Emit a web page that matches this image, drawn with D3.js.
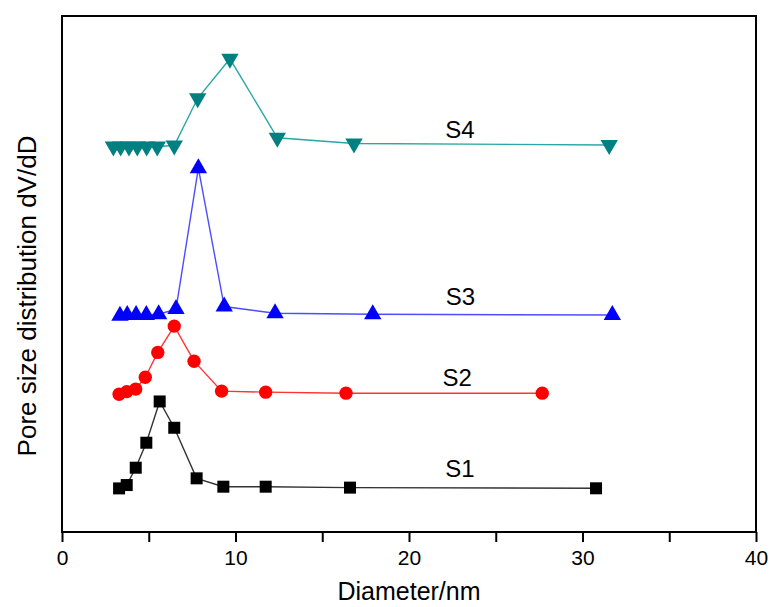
<!DOCTYPE html>
<html>
<head>
<meta charset="utf-8">
<script src="https://cdn.jsdelivr.net/npm/d3@7"></script>
<style>
  body { margin: 0; background: #fff; }
  text { font-family: "Liberation Sans", Arial, sans-serif; }
</style>
</head>
<body>
<div id="chart"></div>
<script>
const svgWidth = 771;
const svgHeight = 607;

const margin = { top: 16, right: 15, bottom: 75, left: 62 };
const width = svgWidth - margin.left - margin.right;
const height = svgHeight - margin.top - margin.bottom;

// pore diameter (nm) and dV/dD (arbitrary, offset per sample)
const s1X = [3.29, 3.73, 4.25, 4.86, 5.63, 6.47, 7.76, 9.30, 11.74, 16.6, 30.78];
const s1Y = [8.45, 9.1, 12.46, 17.3, 25.3, 20.2, 10.4, 8.78, 8.78, 8.6, 8.47];

const s2X = [3.29, 3.73, 4.25, 4.80, 5.52, 6.47, 7.61, 9.20, 11.74, 16.37, 27.68];
const s2Y = [26.7, 27.2, 27.7, 30.0, 34.8, 39.9, 33.1, 27.3, 27.1, 26.9, 26.9];

const s3X = [3.34, 3.76, 4.27, 4.86, 5.57, 6.57, 7.86, 9.35, 12.28, 17.91, 31.72];
const s3Y = [41.9, 42.05, 42.05, 42.05, 42.2, 43.2, 70.5, 43.7, 42.4, 42.2, 42.05];

const s4X = [2.96, 3.38, 3.86, 4.34, 4.88, 5.49, 6.47, 7.82, 9.68, 12.41, 16.83, 31.54];
const s4Y = [74.7, 74.7, 74.7, 74.7, 74.7, 74.7, 74.9, 84.05, 91.7, 76.4, 75.3, 75.0];

const labelNames = ["S1", "S2", "S3", "S4"];
const labelX = [22.94, 22.78, 22.96, 22.94];
const labelY = [10.72, 28.35, 44.0, 76.4];

const xTicks = [0, 5, 10, 15, 20, 25, 30, 35, 40];

const series = [
    { xs: s1X, ys: s1Y, line: "#333333", fill: "#000000", symbol: d3.symbolSquare, size: 144, rot: 0 },
    { xs: s2X, ys: s2Y, line: "#ff3333", fill: "#ff0000", symbol: d3.symbolCircle, size: 140, rot: 0 },
    { xs: s3X, ys: s3Y, line: "#4d4dff", fill: "#0000ff", symbol: d3.symbolTriangle, size: 130, rot: 0 },
    { xs: s4X, ys: s4Y, line: "#2aa6a6", fill: "#008080", symbol: d3.symbolTriangle, size: 130, rot: 180 }
];

const x = d3.scaleLinear().domain([0, 40]).range([0, width]);
const y = d3.scaleLinear().domain([0, 100]).range([height, 0]);

const svg = d3.select("#chart").append("svg")
    .attr("width", svgWidth)
    .attr("height", svgHeight);

const chartGroup = svg.append("g")
    .attr("transform", `translate(${margin.left}, ${margin.top})`);

// x axis
const axisX = chartGroup.append("g")
    .attr("transform", `translate(0, ${height})`)
    .call(d3.axisBottom(x)
        .tickValues(xTicks)
        .tickFormat(d => d % 10 === 0 ? d : "")
        .tickSize(10)
        .tickSizeOuter(0)
        .tickPadding(8));
axisX.select(".domain").remove();
axisX.selectAll(".tick line").attr("stroke", "#000").attr("stroke-width", 2);
axisX.selectAll(".tick text")
    .attr("font-size", 21)
    .attr("fill", "#000")
    .style("font-family", "'Liberation Sans', Arial, sans-serif");

// frame
chartGroup.append("rect")
    .attr("x", 0)
    .attr("y", 0)
    .attr("width", width)
    .attr("height", height)
    .attr("fill", "none")
    .attr("stroke", "#000")
    .attr("stroke-width", 2);

const line = d3.line()
    .x(d => x(d[0]))
    .y(d => y(d[1]));

series.forEach(s => {
    const pts = s.xs.map((v, i) => [v, s.ys[i]]);

    chartGroup.append("path")
        .datum(pts)
        .attr("d", line)
        .attr("fill", "none")
        .attr("stroke", s.line)
        .attr("stroke-width", 1.4);

    chartGroup.selectAll(null)
        .data(pts)
        .enter()
        .append("path")
        .attr("d", d3.symbol().type(s.symbol).size(s.size))
        .attr("transform", d => `translate(${x(d[0])}, ${y(d[1])}) rotate(${s.rot})`)
        .attr("fill", s.fill);
});

// sample labels
chartGroup.selectAll(".slabel")
    .data(labelNames)
    .enter()
    .append("text")
    .attr("class", "slabel")
    .attr("x", (d, i) => x(labelX[i]))
    .attr("y", (d, i) => y(labelY[i]))
    .attr("text-anchor", "middle")
    .attr("font-size", 24)
    .attr("fill", "#000")
    .text(d => d);

// axis titles
svg.append("text")
    .attr("x", margin.left + width / 2)
    .attr("y", 600)
    .attr("text-anchor", "middle")
    .attr("font-size", 25)
    .attr("fill", "#000")
    .text("Diameter/nm");

svg.append("text")
    .attr("transform", "translate(36, 296) rotate(-90)")
    .attr("text-anchor", "middle")
    .attr("font-size", 26)
    .attr("fill", "#000")
    .text("Pore size distribution dV/dD");
</script>
</body>
</html>
